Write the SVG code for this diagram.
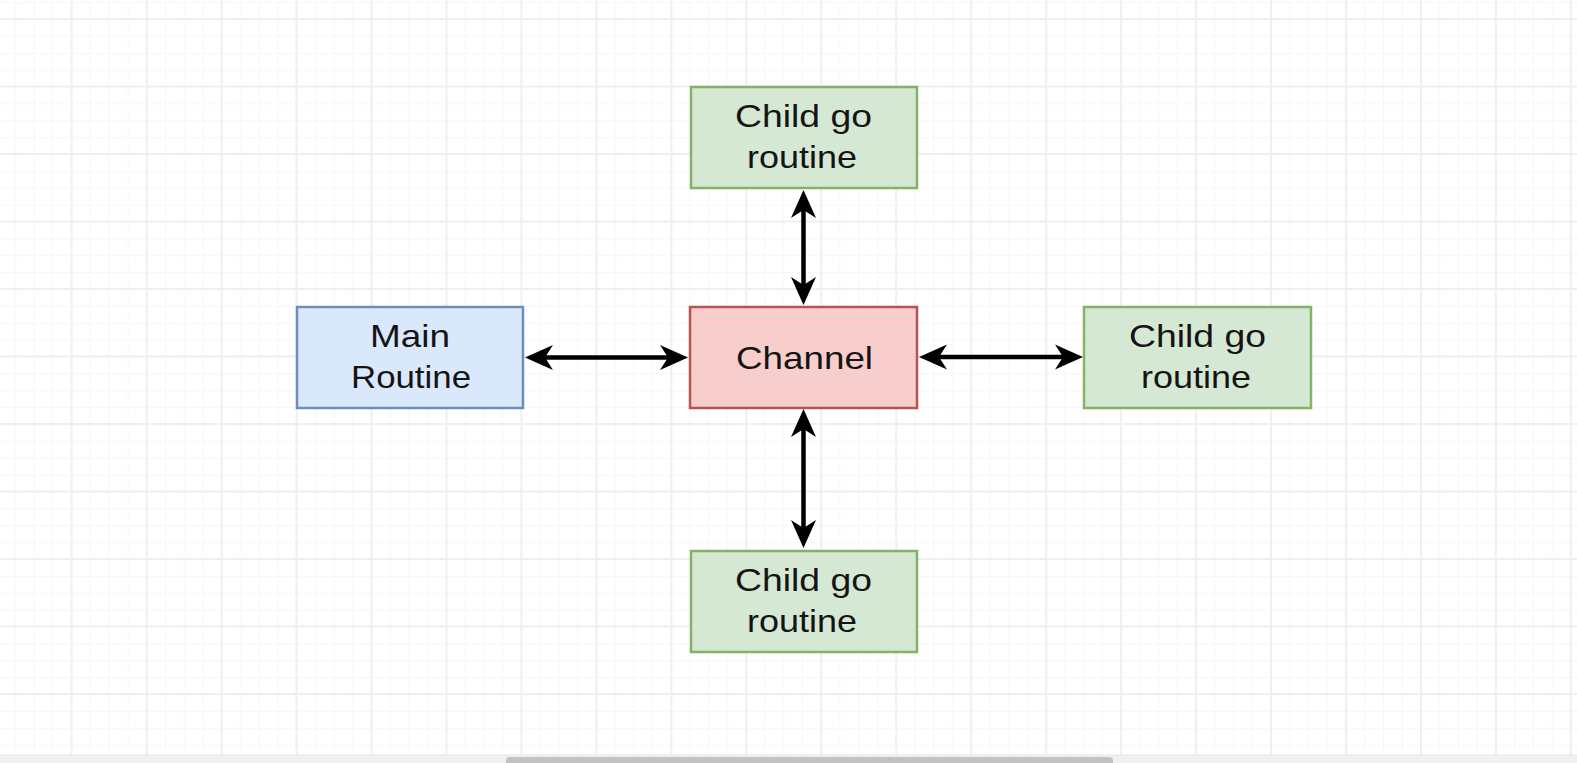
<svg xmlns="http://www.w3.org/2000/svg" width="1577" height="763" viewBox="0 0 1577 763">
  <style>
    .lbl { font-family: "Liberation Sans", Arial, Helvetica, sans-serif; font-size: 32px; fill: #141414; text-anchor: middle; }
    .blue { fill: #dae8fc; stroke: #6c8ebf; stroke-width: 2.5; }
    .red { fill: #f8cecc; stroke: #b85450; stroke-width: 2.5; }
    .green { fill: #d5e8d4; stroke: #82b366; stroke-width: 2.5; }
    .conn { stroke: #000; stroke-width: 4.5; fill: none; marker-start: url(#head); marker-end: url(#head); }
  </style>
  <defs>
    <pattern id="grid" patternUnits="userSpaceOnUse" x="70.7" y="18" width="74.96" height="67.5">
      <rect x="0" y="0" width="74.96" height="67.5" fill="#ffffff"/>
      <g fill="#f7f7f7">
        <rect x="19.24" y="0" width="1" height="67.5"/>
        <rect x="37.98" y="0" width="1" height="67.5"/>
        <rect x="56.72" y="0" width="1" height="67.5"/>
        <rect x="0" y="17.875" width="74.96" height="1"/>
        <rect x="0" y="34.75" width="74.96" height="1"/>
        <rect x="0" y="51.625" width="74.96" height="1"/>
      </g>
      <g fill="#efefef">
        <rect x="0" y="0" width="2" height="67.5"/>
        <rect x="0" y="0" width="74.96" height="2"/>
      </g>
    </pattern>
    <marker id="head" viewBox="0 0 28 26" refX="8" refY="13" markerWidth="28" markerHeight="26" markerUnits="userSpaceOnUse" orient="auto-start-reverse">
      <path d="M28,13 L0,0.5 L8,13 L0,25.5 Z" fill="#000"/>
    </marker>
  </defs>

  <rect x="0" y="0" width="1577" height="763" fill="url(#grid)"/>
  <rect x="0" y="755" width="1577" height="8" fill="#f1f1f1"/>
  <rect x="0" y="754.5" width="1577" height="1" fill="#e8e8e8"/>
  <rect x="506" y="757" width="607" height="10" rx="4" fill="#c2c2c2"/>

  <g id="connectors">
    <line class="conn" x1="545" y1="357.5" x2="668" y2="357.5"/>
    <line class="conn" x1="939" y1="357" x2="1063" y2="357"/>
    <line class="conn" x1="803.5" y1="210" x2="803.5" y2="285"/>
    <line class="conn" x1="803.5" y1="429" x2="803.5" y2="528"/>
  </g>

  <g id="main-routine">
    <rect class="blue" x="297" y="307" width="226" height="101"/>
    <text class="lbl" x="410" y="347" textLength="80" lengthAdjust="spacingAndGlyphs">Main</text>
    <text class="lbl" x="411" y="388" textLength="120" lengthAdjust="spacingAndGlyphs">Routine</text>
  </g>

  <g id="channel">
    <rect class="red" x="690" y="307" width="227" height="101"/>
    <text class="lbl" x="804.5" y="368.5" textLength="137" lengthAdjust="spacingAndGlyphs">Channel</text>
  </g>

  <g id="child-top">
    <rect class="green" x="691" y="87" width="226" height="101"/>
    <text class="lbl" x="803.5" y="127" textLength="137" lengthAdjust="spacingAndGlyphs">Child go</text>
    <text class="lbl" x="802" y="168" textLength="110" lengthAdjust="spacingAndGlyphs">routine</text>
  </g>

  <g id="child-right">
    <rect class="green" x="1084" y="307" width="227" height="101"/>
    <text class="lbl" x="1197.5" y="347" textLength="137" lengthAdjust="spacingAndGlyphs">Child go</text>
    <text class="lbl" x="1196" y="388" textLength="110" lengthAdjust="spacingAndGlyphs">routine</text>
  </g>

  <g id="child-bottom">
    <rect class="green" x="691" y="551" width="226" height="101"/>
    <text class="lbl" x="803.5" y="591" textLength="137" lengthAdjust="spacingAndGlyphs">Child go</text>
    <text class="lbl" x="802" y="632" textLength="110" lengthAdjust="spacingAndGlyphs">routine</text>
  </g>
</svg>
